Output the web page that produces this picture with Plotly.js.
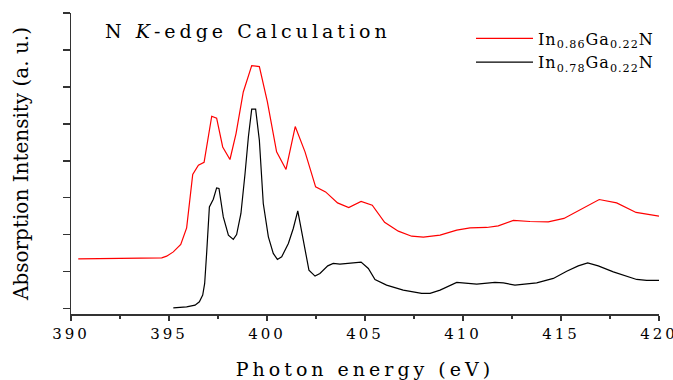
<!DOCTYPE html>
<html>
<head>
<meta charset="utf-8">
<script src="https://cdn.plot.ly/plotly-3.0.1.min.js"></script>
<style>
  html, body { margin: 0; padding: 0; background: #fff; }
  #chart { width: 673px; height: 380px; }
  .annotation-text { letter-spacing: 4px; }
  .xtick text { letter-spacing: 3px; }
  .xtitle { letter-spacing: 4px; }
  .legendtext { letter-spacing: 1px; }
</style>
</head>
<body>
<div id="chart"></div>
<script>
// In(0.86)Ga(0.22)N calculated spectrum
const energyRed = [390.37, 394.63, 394.88, 395.22, 395.6, 395.9, 396.21, 396.5, 396.79, 397.18, 397.43, 397.74, 398.11, 398.42, 398.79, 399.22, 399.61, 400.02, 400.49, 400.97, 401.44, 401.94, 402.48, 402.99, 403.6, 404.17, 404.8, 405.37, 406.0, 406.7, 407.38, 407.98, 408.83, 409.68, 410.36, 411.21, 411.8, 412.57, 413.42, 414.35, 415.15, 416.06, 416.95, 417.84, 418.83, 420.0];
const intensityRed = [0.676, 0.689, 0.712, 0.770, 0.870, 1.095, 1.816, 1.942, 1.982, 2.604, 2.577, 2.189, 2.019, 2.370, 2.932, 3.289, 3.276, 2.797, 2.122, 1.884, 2.465, 2.122, 1.649, 1.581, 1.432, 1.370, 1.451, 1.401, 1.170, 1.050, 0.982, 0.969, 0.996, 1.064, 1.095, 1.100, 1.122, 1.195, 1.181, 1.176, 1.222, 1.347, 1.478, 1.432, 1.303, 1.253];

// In(0.78)Ga(0.22)N calculated spectrum
const energyBlack = [395.22, 395.9, 396.33, 396.55, 396.72, 396.82, 396.92, 397.06, 397.26, 397.43, 397.55, 397.77, 398.03, 398.28, 398.45, 398.67, 398.88, 399.05, 399.22, 399.42, 399.61, 399.81, 400.07, 400.32, 400.53, 400.75, 401.09, 401.34, 401.57, 401.85, 402.14, 402.45, 402.7, 403.1, 403.38, 403.72, 404.15, 404.8, 405.17, 405.51, 406.1, 406.95, 407.89, 408.32, 408.83, 409.68, 410.7, 411.63, 412.06, 412.65, 413.76, 414.61, 415.29, 415.88, 416.36, 416.9, 417.67, 418.86, 419.37, 420.0];
const intensityBlack = [0.014, 0.027, 0.050, 0.095, 0.185, 0.343, 0.749, 1.378, 1.482, 1.635, 1.627, 1.243, 0.996, 0.938, 1.005, 1.289, 1.830, 2.324, 2.699, 2.699, 2.280, 1.424, 0.973, 0.749, 0.668, 0.703, 0.884, 1.086, 1.324, 0.928, 0.523, 0.442, 0.478, 0.581, 0.614, 0.604, 0.618, 0.631, 0.546, 0.397, 0.320, 0.253, 0.208, 0.208, 0.253, 0.357, 0.334, 0.357, 0.351, 0.320, 0.351, 0.411, 0.509, 0.581, 0.622, 0.581, 0.500, 0.397, 0.384, 0.384];

const seriesNames = ["In<sub>0.86</sub>Ga<sub>0.22</sub>N", "In<sub>0.78</sub>Ga<sub>0.22</sub>N"];
const titleText = "N <i>K</i>-edge Calculation";
const xTitle = "Photon energy (eV)";
const yTitle = "Absorption Intensity (a. u.)";

const serif = "DejaVu Serif";
const axisColor = "#333333";

const traces = [
  { x: energyRed, y: intensityRed, name: seriesNames[0], type: "scatter", mode: "lines",
    line: { color: "#ff0000", width: 1.2 } },
  { x: energyBlack, y: intensityBlack, name: seriesNames[1], type: "scatter", mode: "lines",
    line: { color: "#000000", width: 1.2 } }
];

const layout = {
  width: 673, height: 380,
  margin: { l: 71, r: 14, t: 13, b: 66 },
  paper_bgcolor: "#ffffff", plot_bgcolor: "#ffffff",
  font: { family: serif, color: "#000" },
  showlegend: true,
  legend: {
    x: 1, xanchor: "right", y: 0.972, yanchor: "top",
    bgcolor: "rgba(0,0,0,0)", font: { family: serif, size: 16, color: "#000" },
    itemwidth: 57, tracegroupgap: 0
  },
  xaxis: {
    range: [390, 420], dtick: 5, tick0: 390,
    showgrid: false, zeroline: false,
    showline: true, linecolor: axisColor, linewidth: 1.5,
    ticks: "outside", ticklen: 5, tickwidth: 1.2, tickcolor: axisColor,
    minor: { dtick: 2.5, ticks: "outside", ticklen: 3, tickcolor: axisColor, tickwidth: 1.2 },
    tickfont: { family: serif, size: 15, color: "#000" },
    ticklabeloverflow: "allow",
    title: { text: xTitle, font: { family: serif, size: 19, color: "#000" }, standoff: 27 }
  },
  yaxis: {
    range: [-0.07, 4.0], dtick: 0.5, tick0: 0,
    showgrid: false, zeroline: false, showticklabels: false,
    showline: true, linecolor: axisColor, linewidth: 1.5,
    ticks: "outside", ticklen: 7, tickwidth: 1.2, tickcolor: axisColor,
    title: { text: yTitle, font: { family: serif, size: 20, color: "#000" }, standoff: 28 }
  },
  annotations: [
    { text: titleText, xref: "paper", yref: "paper", x: 0.055, y: 0.985,
      xanchor: "left", yanchor: "top", showarrow: false,
      font: { family: serif, size: 19, color: "#000" } }
  ]
};

Plotly.newPlot("chart", traces, layout, { displayModeBar: false, staticPlot: true });
</script>
</body>
</html>
